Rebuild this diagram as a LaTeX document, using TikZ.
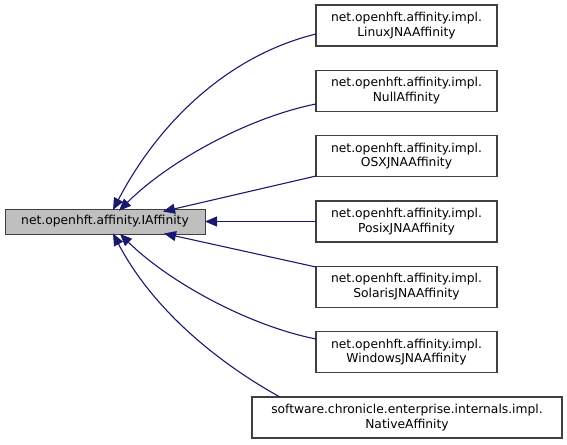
\documentclass[tikz,border=0pt]{standalone}
\usepackage{fontspec}
\setmainfont{DejaVu Sans}
\usetikzlibrary{arrows.meta}
\definecolor{edgeblue}{HTML}{191970}
\definecolor{basegrey}{HTML}{BFBFBF}
\definecolor{boxborder}{HTML}{404040}
\begin{document}
\begin{tikzpicture}[x=1pt,y=-1pt,
  every node/.style={font=\fontsize{12.3}{14.5}\selectfont, align=center, inner sep=0pt, outer sep=0pt},
  basebox/.style={draw=boxborder, fill=basegrey, line width=1pt, minimum width=200pt, minimum height=25pt},
  derived/.style={draw=boxborder, fill=white, line width=1.1pt, minimum width=181pt, minimum height=41pt},
  wide/.style={draw=boxborder, fill=white, line width=1.1pt, minimum width=310pt, minimum height=41pt},
  inh/.style={draw=edgeblue, line width=1.1pt, -{Triangle[length=12pt,width=10pt]}}]
\useasboundingbox (0,0) rectangle (567,444);
\node[basebox] (base) at (105,221.5) {net.openhft.affinity.IAffinity};
\node[derived] (linux) at (406.5,25.5) {net.openhft.affinity.impl.\\LinuxJNAAffinity};
\node[derived] (null) at (406.5,90.8) {net.openhft.affinity.impl.\\NullAffinity};
\node[derived] (osx) at (406.5,156.2) {net.openhft.affinity.impl.\\OSXJNAAffinity};
\node[derived] (posix) at (406.5,221.5) {net.openhft.affinity.impl.\\PosixJNAAffinity};
\node[derived] (solaris) at (406.5,286.8) {net.openhft.affinity.impl.\\SolarisJNAAffinity};
\node[derived] (windows) at (406.5,352.2) {net.openhft.affinity.impl.\\WindowsJNAAffinity};
\node[wide] (native) at (407,417.5) {software.chronicle.enterprise.internals.impl.\\NativeAffinity};
\coordinate (t1) at (113,210);
\coordinate (t2) at (119,210.7);
\coordinate (t3) at (163,211.5);
\coordinate (t5) at (164,233.5);
\coordinate (t6) at (120,234);
\coordinate (t7) at (113,233.5);
\draw[inh] (linux.west |- 0,34) .. controls (230,55) and (160,120) .. (t1);
\draw[inh] (null.west |- 0,104) .. controls (250,117) and (170,160) .. (t2);
\draw[inh] (osx.west |- 0,176) -- (t3);
\draw[inh] (posix.west) -- (base.east);
\draw[inh] (solaris.west |- 0,267) -- (t5);
\draw[inh] (windows.west |- 0,339) .. controls (250,326) and (170,283) .. (t6);
\draw[inh] (native.north west) ++(28,0) .. controls (240,375) and (160,323) .. (t7);
\end{tikzpicture}
\end{document}
